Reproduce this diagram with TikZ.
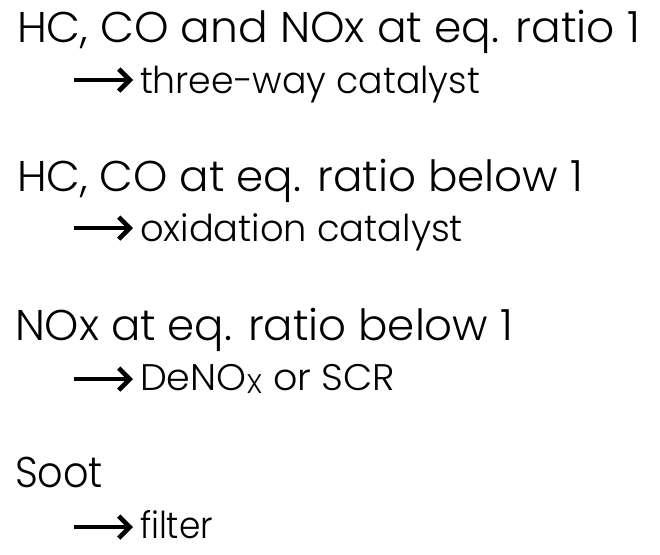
\documentclass[tikz,border=0pt]{standalone}
\usepackage{fontspec}
\setmainfont{Poppins}[UprightFont={* Light}]
\usetikzlibrary{arrows.meta}
\newcommand{\fitw}[3]{\resizebox{#1}{\height}{\fontsize{#2}{#2}\selectfont #3}}
\tikzset{
  txt/.style={anchor=base west, inner sep=0pt, outer sep=0pt, text=black},
  arr/.style={line width=4.8pt, draw=black, shorten >=7pt,
    -{Straight Barb[length=11pt, width=22pt, line width=4.6pt, line join=miter]}}
}
\begin{document}
\begin{tikzpicture}[x=1pt, y=-1pt]
\useasboundingbox (0,0) rectangle (660,554);
\node[txt] (l1) at (17,42) {\fitw{623pt}{43}{HC, CO and NOx at eq. ratio 1}};
\node[txt] (l2) at (140,93) {\fitw{340pt}{37}{three-way catalyst}};
\node[txt] (l3) at (17,191) {\fitw{566pt}{43}{HC, CO at eq. ratio below 1}};
\node[txt] (l4) at (140,241) {\fitw{323pt}{37}{oxidation catalyst}};
\node[txt] (l5) at (15,340) {\fitw{498pt}{43}{NOx at eq. ratio below 1}};
\node[txt] (l6) at (140,390) {\fitw{255pt}{37}{DeNO\raisebox{-3pt}{\fontsize{27}{27}\selectfont X} or SCR}};
\node[txt] (l7) at (15,487) {\fitw{88pt}{43}{Soot}};
\node[txt] (l8) at (140,538) {\fitw{73pt}{37}{filter}};
\coordinate (a2) at (74,80);
\coordinate (a4) at (74,228);
\coordinate (a6) at (74,379);
\coordinate (a8) at (74,527);
\draw[arr] (a2) -- (a2 -| l2.west);
\draw[arr] (a4) -- (a4 -| l4.west);
\draw[arr] (a6) -- (a6 -| l6.west);
\draw[arr] (a8) -- (a8 -| l8.west);
\end{tikzpicture}
\end{document}
